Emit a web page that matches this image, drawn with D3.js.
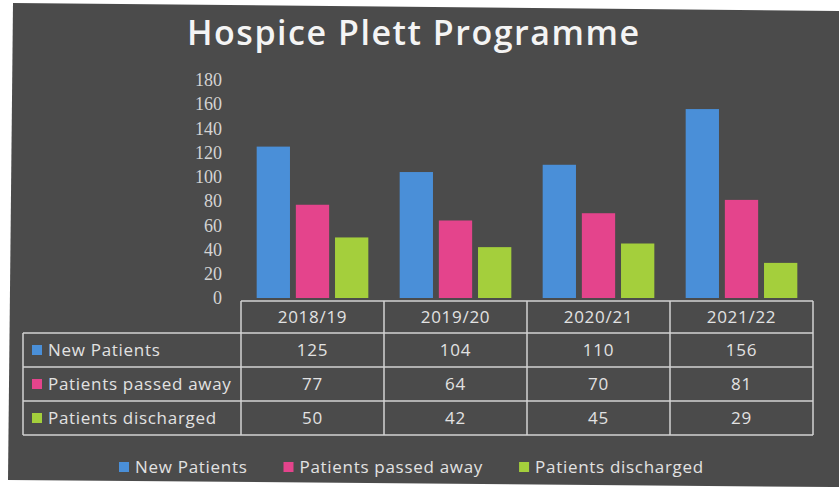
<!DOCTYPE html>
<html>
<head>
<meta charset="utf-8">
<script src="https://cdn.jsdelivr.net/npm/d3@7"></script>
<style>
  html, body { margin: 0; padding: 0; background: #ffffff; }
  svg { display: block; }
</style>
</head>
<body>
<div id="chart"></div>
<script>
// Chart data
const years = ["2018/19", "2019/20", "2020/21", "2021/22"];
const seriesNames = ["New Patients", "Patients passed away", "Patients discharged"];
const newPatients = [125, 104, 110, 156];
const passedAway = [77, 64, 70, 81];
const discharged = [50, 42, 45, 29];
const yTicks = [0, 20, 40, 60, 80, 100, 120, 140, 160, 180];

const seriesValues = [newPatients, passedAway, discharged];
const colors = ["#4a8fd8", "#e4448c", "#a4cf3c"];

const width = 839;
const height = 487;

const svg = d3.select("#chart")
  .append("svg")
  .attr("width", width)
  .attr("height", height);

// Dark panel (the photographed page is slightly skewed)
svg.append("path")
  .attr("d", "M13,3 L839,11 L839,487 L833,487 L8,480 Z")
  .attr("fill", "#4b4b4b");

// Title
svg.append("text")
  .attr("x", 413)
  .attr("y", 45)
  .attr("text-anchor", "middle")
  .attr("textLength", 452)
  .attr("lengthAdjust", "spacing")
  .style("font-family", "'Open Sans', sans-serif")
  .style("font-weight", 600)
  .style("font-size", "34px")
  .style("fill", "#f4f4f4")
  .text("Hospice Plett Programme");

// Scales
const x0 = d3.scaleBand().domain(years).range([241, 813]).padding(0);
const x1 = d3.scaleBand().domain(seriesNames).range([0, x0.bandwidth()])
  .paddingInner(0.15).paddingOuter(0.4);
const y = d3.scaleLinear().domain([0, 180]).range([298, 80]);

// Y axis
const yAxis = svg.append("g")
  .attr("transform", "translate(226,0)")
  .call(d3.axisLeft(y).tickValues(yTicks).tickSize(0).tickPadding(4));
yAxis.select(".domain").remove();
yAxis.selectAll("text")
  .style("font-family", "'Liberation Serif', serif")
  .style("font-size", "18px")
  .style("fill", "#d4d4d4");

// Bars
const groups = svg.append("g")
  .selectAll("g")
  .data(years)
  .join("g")
  .attr("transform", (d) => `translate(${x0(d)},0)`);

groups.selectAll("rect")
  .data((d, i) => seriesNames.map((s, j) => ({ name: s, value: seriesValues[j][i], idx: j })))
  .join("rect")
  .attr("x", (d) => x1(d.name))
  .attr("y", (d) => y(d.value))
  .attr("width", x1.bandwidth())
  .attr("height", (d) => y(0) - y(d.value))
  .attr("fill", (d) => colors[d.idx]);

// Data table
const tableTop = 301;
const headerH = 32;
const rowH = 34;
const tableLeft = 23;
const tableRight = x0.range()[1];
const rowY = (i) => tableTop + headerH + i * rowH;
const tableBottom = rowY(seriesNames.length);

const lineColor = "#d2d2d2";
const table = svg.append("g");

// horizontal lines
table.append("line")
  .attr("x1", x0.range()[0]).attr("x2", tableRight)
  .attr("y1", tableTop).attr("y2", tableTop);
d3.range(seriesNames.length + 1).forEach((i) => {
  table.append("line")
    .attr("x1", tableLeft).attr("x2", tableRight)
    .attr("y1", rowY(i)).attr("y2", rowY(i));
});
// vertical lines
table.append("line")
  .attr("x1", tableLeft).attr("x2", tableLeft)
  .attr("y1", rowY(0)).attr("y2", tableBottom);
years.concat(["end"]).forEach((yr) => {
  const xx = yr === "end" ? tableRight : x0(yr);
  table.append("line")
    .attr("x1", xx).attr("x2", xx)
    .attr("y1", tableTop).attr("y2", tableBottom);
});
table.selectAll("line")
  .attr("stroke", lineColor)
  .attr("stroke-width", 1.5);

const cellText = (sel) => sel
  .style("font-family", "'Open Sans', sans-serif")
  .style("font-size", "17px")
  .style("letter-spacing", "0.7px")
  .style("fill", "#e2e2e2");

// header
table.selectAll(".hdr")
  .data(years)
  .join("text")
  .attr("class", "hdr")
  .attr("x", (d) => x0(d) + x0.bandwidth() / 2)
  .attr("y", tableTop + headerH / 2)
  .attr("dy", "0.35em")
  .attr("text-anchor", "middle")
  .call(cellText)
  .text((d) => d);

// row labels with markers
seriesNames.forEach((name, j) => {
  const cy = rowY(j) + rowH / 2;
  table.append("rect")
    .attr("x", 32).attr("y", cy - 5)
    .attr("width", 10).attr("height", 10)
    .attr("fill", colors[j]);
  table.append("text")
    .attr("x", 48).attr("y", cy)
    .attr("dy", "0.35em")
    .call(cellText)
    .text(name);
  years.forEach((yr, i) => {
    table.append("text")
      .attr("x", x0(yr) + x0.bandwidth() / 2)
      .attr("y", cy)
      .attr("dy", "0.35em")
      .attr("text-anchor", "middle")
      .call(cellText)
      .text(seriesValues[j][i]);
  });
});

// Bottom legend
const legend = svg.append("g");
let lx = 119;
const ly = 467;
seriesNames.forEach((name, j) => {
  legend.append("rect")
    .attr("x", lx).attr("y", ly - 5)
    .attr("width", 10).attr("height", 10)
    .attr("fill", colors[j]);
  const t = legend.append("text")
    .attr("x", lx + 16).attr("y", ly)
    .attr("dy", "0.35em")
    .call(cellText)
    .text(name);
  lx += 16 + t.node().getComputedTextLength() + 36;
});
</script>
</body>
</html>
